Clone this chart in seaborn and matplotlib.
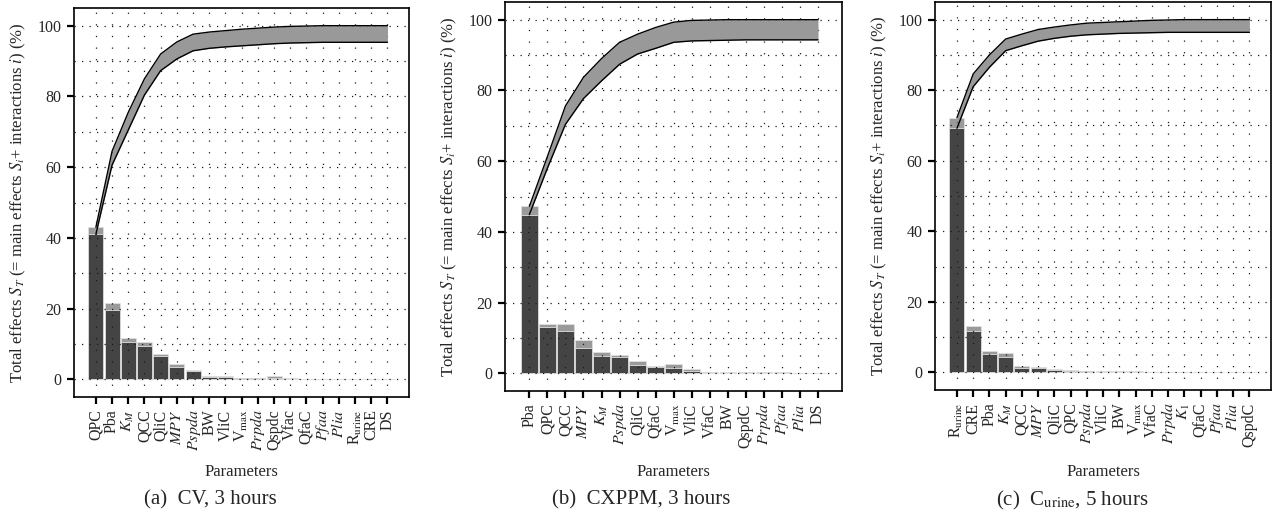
import matplotlib
matplotlib.use("Agg")
from matplotlib import pyplot as plt
import seaborn as sns

# panel (a): CV, 3 hours
params_a = ["QPC", "Pba", "$K_M$", "QCC", "QliC", "$MPY$", "$Pspda$", "BW", "VliC",
            "V$_{\\rm max}$", "$Prpda$", "Qspdc", "Vfac", "QfaC", "$Pfaa$", "$Plia$",
            "R$_{\\rm urine}$", "CRE", "DS"]
total_a = [43.0, 21.6, 11.6, 10.5, 7.3, 4.3, 2.7, 0.85, 0.85, 0.45, 0.35, 0.8, 0.3,
           0.15, 0.1, 0.1, 0.1, 0.1, 0.1]
main_a = [41.0, 19.6, 10.5, 9.5, 6.5, 3.4, 2.3, 0.6, 0.6, 0.35, 0.25, 0.3, 0.2,
          0.05, 0.02, 0.02, 0.02, 0.02, 0.02]
upper_a = [43.0, 64.5, 75.5, 85.0, 92.0, 95.4, 97.6, 98.2, 98.6, 99.0, 99.3, 99.6,
           99.8, 99.9, 100, 100, 100, 100, 100]
lower_a = [41.0, 60.6, 70.5, 80.4, 87.3, 90.6, 92.9, 93.6, 94.0, 94.3, 94.6, 94.9,
           95.1, 95.2, 95.3, 95.3, 95.3, 95.3, 95.3]

# panel (b): CXPPM, 3 hours
params_b = ["Pba", "QPC", "QCC", "$MPY$", "$K_M$", "$Pspda$", "QliC", "QfaC",
            "V$_{\\rm max}$", "VliC", "VfaC", "BW", "QspdC", "$Prpda$", "$Pfaa$",
            "$Plia$", "DS"]
total_b = [47.2, 14.0, 14.0, 9.4, 6.0, 5.2, 3.5, 2.2, 2.5, 1.2, 0.4, 0.35, 0.5,
           0.25, 0.3, 0.2, 0.2]
main_b = [44.9, 13.1, 12.0, 7.3, 5.0, 4.7, 2.4, 1.8, 1.6, 0.6, 0.1, 0.1, 0.1,
          0.05, 0.05, 0.05, 0.05]
upper_b = [47.2, 61.3, 75.6, 83.7, 89.0, 93.6, 95.9, 97.8, 99.3, 99.8, 99.9, 100,
           100, 100, 100, 100, 100]
lower_b = [44.9, 58.0, 70.4, 77.7, 82.7, 87.4, 90.3, 91.9, 93.6, 94.0, 94.1, 94.2,
           94.3, 94.3, 94.3, 94.3, 94.3]

# panel (c): C_urine, 5 hours
params_c = ["R$_{\\rm urine}$", "CRE", "Pba", "$K_M$", "QCC", "$MPY$", "QliC", "QPC",
            "$Pspda$", "VliC", "BW", "V$_{\\rm max}$", "VfaC", "$Prpda$", "$K_1$",
            "QfaC", "$Pfaa$", "$Plia$", "QspdC"]
total_c = [72.2, 13.1, 6.1, 5.4, 1.7, 1.6, 0.85, 0.65, 0.5, 0.4, 0.25, 0.25, 0.1,
           0.08, 0.08, 0.08, 0.08, 0.12, 0.12]
main_c = [69.2, 11.6, 5.2, 4.3, 1.2, 1.1, 0.65, 0.45, 0.35, 0.2, 0.1, 0.1, 0.05,
          0.02, 0.02, 0.02, 0.02, 0.03, 0.03]
upper_c = [72.2, 84.6, 90.0, 94.5, 95.9, 97.2, 97.9, 98.5, 99.0, 99.2, 99.4, 99.6,
           99.8, 99.9, 100, 100, 100, 100, 100]
lower_c = [69.2, 81.0, 86.5, 91.2, 92.6, 93.9, 94.7, 95.3, 95.7, 95.9, 96.1, 96.2,
           96.3, 96.4, 96.4, 96.4, 96.4, 96.4, 96.4]

captions = ["(a)  CV, 3 hours", "(b)  CXPPM, 3 hours", "(c)  C$_{\\rm urine}$, 5 hours"]

sns.set_theme(style="ticks")
plt.rcParams["font.family"] = ["Liberation Serif", "DejaVu Serif"]
plt.rcParams["mathtext.fontset"] = "stix"

W, H = 1272, 522
fig = plt.figure(figsize=(W / 100, H / 100), dpi=100)

# axes boxes in pixels: left, top, right, bottom
boxes = [(74, 8, 409, 397), (505, 2, 842, 391), (935, 2, 1271, 390)]
caption_x = [210, 641, 1072]

DARK = "#444444"
LIGHT = "#9a9a9a"

panels = [
    (params_a, total_a, main_a, upper_a, lower_a),
    (params_b, total_b, main_b, upper_b, lower_b),
    (params_c, total_c, main_c, upper_c, lower_c),
]

for (params, total, main, upper, lower), (l, t, r, b), cap, cx in zip(panels, boxes, captions, caption_x):
    ax = fig.add_axes([l / W, 1 - b / H, (r - l) / W, (b - t) / H])
    n = len(params)
    x = list(range(n))

    sns.barplot(x=params, y=total, color=LIGHT, saturation=1, width=0.92,
                edgecolor="#e0e0e0", linewidth=0.6, errorbar=None, ax=ax)
    sns.barplot(x=params, y=main, color=DARK, saturation=1, width=0.92,
                edgecolor="#e0e0e0", linewidth=0.6, errorbar=None, ax=ax)

    ax.fill_between(x, lower, upper, color="#999999", lw=0, zorder=3)
    ax.plot(x, upper, color="black", lw=1.0, zorder=4)
    ax.plot(x, lower, color="black", lw=1.0, zorder=4)

    ax.set_xlim(-1.35, n - 1 + 1.33)
    ax.set_ylim(-5, 105)
    ax.set_yticks(range(0, 101, 20))
    ax.set_yticks(range(0, 101, 10), minor=True)

    ax.set_axisbelow(False)
    ax.grid(axis="x", color="#1a1a1a", lw=0.9, linestyle=(0, (1, 8.3)))
    ax.grid(axis="y", which="both", color="#1a1a1a", lw=0.9, linestyle=(0, (1, 5.0)))

    for side in ["left", "right", "top", "bottom"]:
        ax.spines[side].set_visible(True)
        ax.spines[side].set_color("black")
        ax.spines[side].set_linewidth(1.2)

    ax.tick_params(axis="both", which="major", length=5, width=1.6, color="black",
                   labelsize=11.5, pad=4, direction="out")
    ax.tick_params(axis="y", which="minor", length=0)
    ax.tick_params(axis="x", labelrotation=90)

    ax.set_xlabel("Parameters", fontsize=12)
    ax.xaxis.set_label_coords(0.5, -(472 - b) / (b - t))
    ax.xaxis.label.set_va("center")
    ax.set_ylabel("Total effects $S_T$ (= main effects $S_i$+ interactions $i$) (%)",
                  fontsize=12)
    ax.yaxis.set_label_coords(-56 / (r - l), 0.5)
    ax.yaxis.label.set_va("center")

    fig.text(cx / W, 1 - 500 / H, cap, ha="center", va="center", fontsize=15)

fig.savefig("out.png", dpi=100)
